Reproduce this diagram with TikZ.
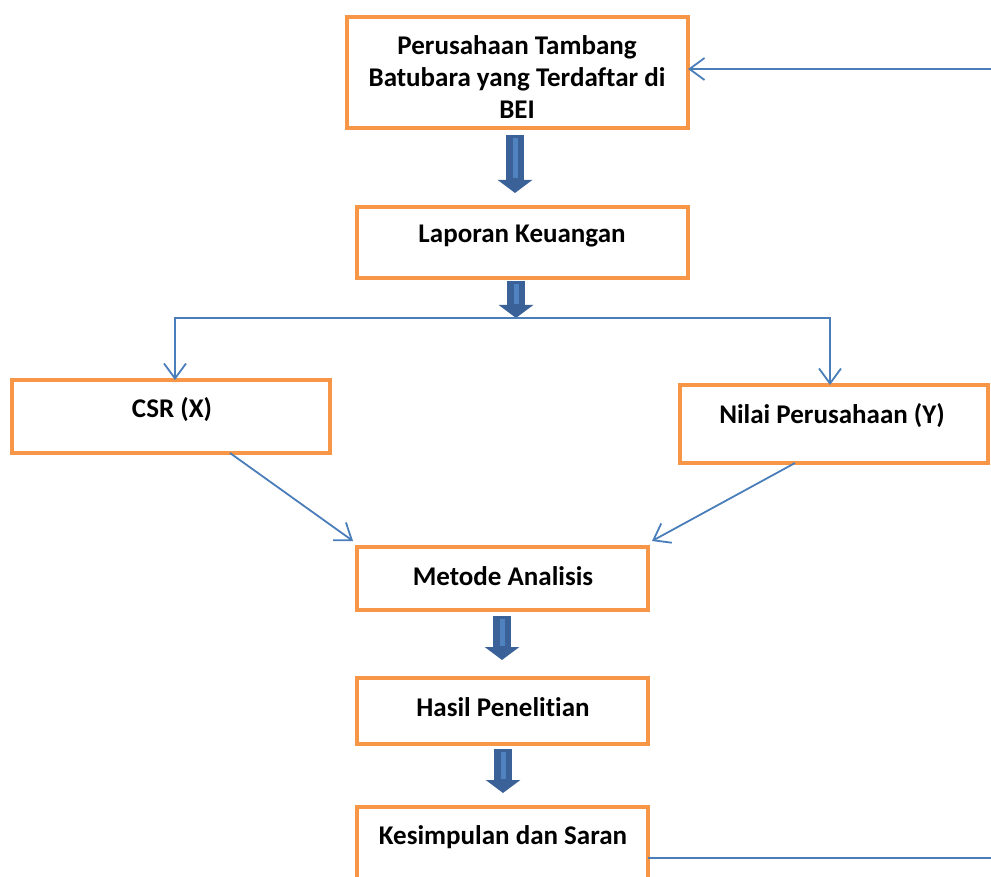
\documentclass[tikz,border=0pt]{standalone}
\usepackage{fontspec}
\setmainfont{Carlito}[Ligatures=NoCommon]
\usetikzlibrary{arrows.meta,calc}
\definecolor{boxorange}{HTML}{F79646}
\definecolor{linkblue}{HTML}{4A7EBB}
\definecolor{arrowdark}{HTML}{3A6299}
\definecolor{arrowlight}{HTML}{5082C0}
\tikzset{
  box/.style={draw=boxorange, line width=4.5pt, fill=white, rectangle, inner sep=0pt, outer sep=0pt},
  txt/.style={font=\bfseries\fontsize{27}{32}\selectfont, align=center, inner sep=0pt},
  conn/.style={draw=linkblue, line width=1.8pt, -{Straight Barb[length=15pt,width=22pt,line width=1.8pt]}},
  plain/.style={draw=linkblue, line width=1.8pt},
  bigarrow/.style={draw=arrowdark, line width=18pt, -{Triangle[length=13pt,width=34pt]}},
  bigstripe/.style={draw=arrowlight, line width=5pt}
}
\begin{document}
\begin{tikzpicture}[x=1pt,y=-1pt]
\useasboundingbox (0,0) rectangle (991,877);
\clip (0,0) rectangle (991,877);

% boxes
\node[box, minimum width=341pt, minimum height=111pt] (b1) at (517.5,72.5) {};
\node[txt] (t1) at (517,77) {Perusahaan Tambang\\Batubara yang Terdaftar di\\BEI};
\node[box, minimum width=331pt, minimum height=71pt] (b2) at (522.5,242.5) {};
\node[txt] (t2) at (522,236) {Laporan Keuangan};
\node[box, minimum width=318pt, minimum height=73pt] (csr) at (171,416.5) {};
\node[txt] (t3) at (172,410) {CSR (X)};
\node[box, minimum width=308pt, minimum height=78pt] (nilai) at (834,424) {};
\node[txt] (t4) at (832,416) {Nilai Perusahaan (Y)};
\node[box, minimum width=291pt, minimum height=63pt] (metode) at (502.5,578.5) {};
\node[txt] (t5) at (503,576) {Metode Analisis};
\node[box, minimum width=291pt, minimum height=66pt] (hasil) at (502.5,711) {};
\node[txt] (t6) at (503,707) {Hasil Penelitian};
\node[box, minimum width=291pt, minimum height=102pt] (kes) at (502.5,858) {};
\node[txt] (t7) at (503,837) {Kesimpulan dan Saran};

% block arrows
\coordinate (split) at (516,318);
\draw[bigarrow] (515,135) -- (515,193);
\draw[bigstripe] (515,138) -- (515,178);
\draw[bigarrow] (516,281) -- (split);
\draw[bigstripe] (516,284) -- (516,304);
\draw[bigarrow] (502,616) -- (502,660);
\draw[bigstripe] (502,619) -- (502,646);
\draw[bigarrow] (503,749) -- (503,793);
\draw[bigstripe] (503,752) -- (503,779);

% thin connectors
\draw[conn] (split) -| ($(csr.north)+(4,0)$);
\draw[conn] (split) -| ($(nilai.north)+(-4,0)$);
\draw[conn] ($(csr.south)+(59,0)$) -- ($(metode.north west)+(-4,-6)$);
\draw[conn] ($(nilai.south)+(-39,0)$) -- ($(metode.north east)+(4,-6)$);
\coordinate (rtop) at (991,69);
\coordinate (rbot) at (991,858);
\draw[conn] (rtop) -- (b1.east |- rtop);
\draw[plain] (kes.east) -- (rbot);
\end{tikzpicture}
\end{document}
